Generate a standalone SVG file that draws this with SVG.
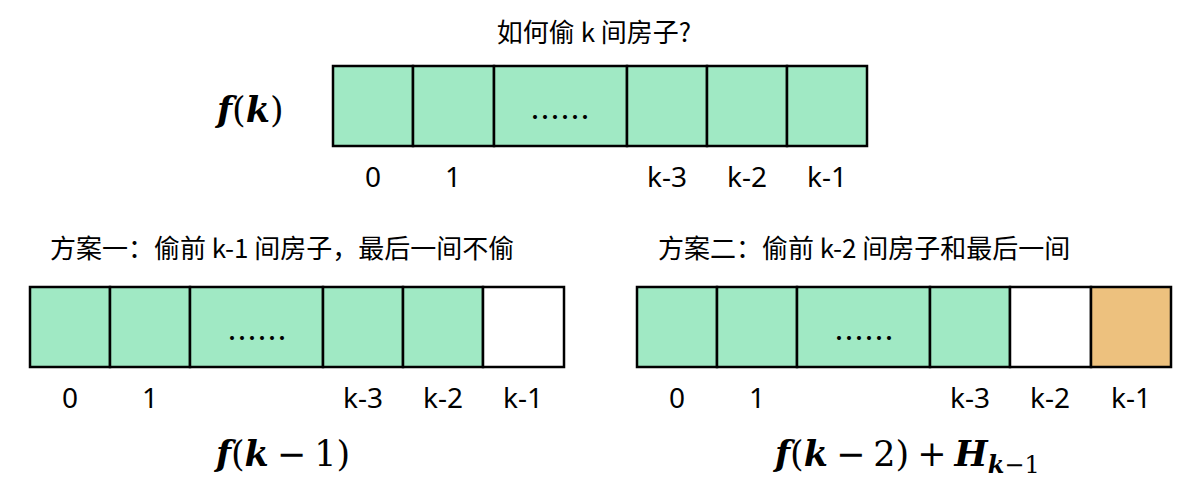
<svg xmlns="http://www.w3.org/2000/svg" width="1200" height="500" viewBox="0 0 1200 500">
<style>
.cell{stroke:#000;stroke-width:2.5}
.g{fill:#a0e9c4}
.w{fill:#fff}
.o{fill:#edc17e}
.lbl{font-family:"Noto Sans","Noto Sans CJK SC",sans-serif;font-size:28px;fill:#000;text-anchor:middle}
.cap{font-family:"Noto Sans CJK SC",sans-serif;font-size:26px;fill:#000}
.dots{font-family:"Noto Sans CJK SC",sans-serif;font-size:30px;fill:#000;text-anchor:middle;dominant-baseline:central}
.m{font-family:"DejaVu Serif","Liberation Serif",serif;font-size:35px;fill:#000}
.mi{font-style:italic;font-weight:bold}
.sub{font-size:24px}
</style>
<rect width="1200" height="500" fill="#fff"/>
<text class="cap" x="594" y="42" text-anchor="middle" font-size="25">如何偷 k 间房子?</text>

<g id="top-row">
<rect class="cell g" x="333" y="66" width="80" height="80"/>
<rect class="cell g" x="413" y="66" width="81" height="80"/>
<rect class="cell g" x="494" y="66" width="133" height="80"/>
<rect class="cell g" x="627" y="66" width="80" height="80"/>
<rect class="cell g" x="707" y="66" width="80" height="80"/>
<rect class="cell g" x="787" y="66" width="80" height="80"/>
<text class="dots" x="560" y="115">……</text>
<text class="lbl" x="373" y="187">0</text>
<text class="lbl" x="453" y="187">1</text>
<text class="lbl" x="667" y="187">k-3</text>
<text class="lbl" x="747" y="187">k-2</text>
<text class="lbl" x="827" y="187">k-1</text>
</g>
<text id="fk" class="m" x="217" y="122"><tspan class="mi">f</tspan>(<tspan class="mi">k</tspan>)</text>

<g id="plan1">
<text class="cap" x="50" y="258">方案一：偷前 k-1 间房子，最后一间不偷</text>
<rect class="cell g" x="30" y="287" width="80" height="80"/>
<rect class="cell g" x="110" y="287" width="80" height="80"/>
<rect class="cell g" x="190" y="287" width="133" height="80"/>
<rect class="cell g" x="323" y="287" width="80" height="80"/>
<rect class="cell g" x="403" y="287" width="80" height="80"/>
<rect class="cell w" x="483" y="287" width="81" height="80"/>
<text class="dots" x="257" y="336">……</text>
<text class="lbl" x="70" y="408">0</text>
<text class="lbl" x="150" y="408">1</text>
<text class="lbl" x="363" y="408">k-3</text>
<text class="lbl" x="443" y="408">k-2</text>
<text class="lbl" x="523" y="408">k-1</text>
<text class="m" x="283" y="466" text-anchor="middle"><tspan class="mi">f</tspan>(<tspan class="mi">k</tspan><tspan dx="8">−</tspan><tspan dx="8">1)</tspan></text>
</g>

<g id="plan2">
<text class="cap" x="658" y="258">方案二：偷前 k-2 间房子和最后一间</text>
<rect class="cell g" x="637" y="287" width="80" height="80"/>
<rect class="cell g" x="717" y="287" width="80" height="80"/>
<rect class="cell g" x="797" y="287" width="133" height="80"/>
<rect class="cell g" x="930" y="287" width="80" height="80"/>
<rect class="cell w" x="1010" y="287" width="81" height="80"/>
<rect class="cell o" x="1091" y="287" width="80" height="80"/>
<text class="dots" x="864" y="336">……</text>
<text class="lbl" x="677" y="408">0</text>
<text class="lbl" x="757" y="408">1</text>
<text class="lbl" x="970" y="408">k-3</text>
<text class="lbl" x="1050" y="408">k-2</text>
<text class="lbl" x="1131" y="408">k-1</text>
<text class="m" x="775" y="466"><tspan class="mi">f</tspan>(<tspan class="mi">k</tspan><tspan dx="8">−</tspan><tspan dx="8">2)</tspan><tspan dx="8">+</tspan><tspan class="mi" dx="8">H</tspan><tspan class="mi sub" dy="7">k</tspan><tspan class="sub">−1</tspan></text>
</g>
</svg>
